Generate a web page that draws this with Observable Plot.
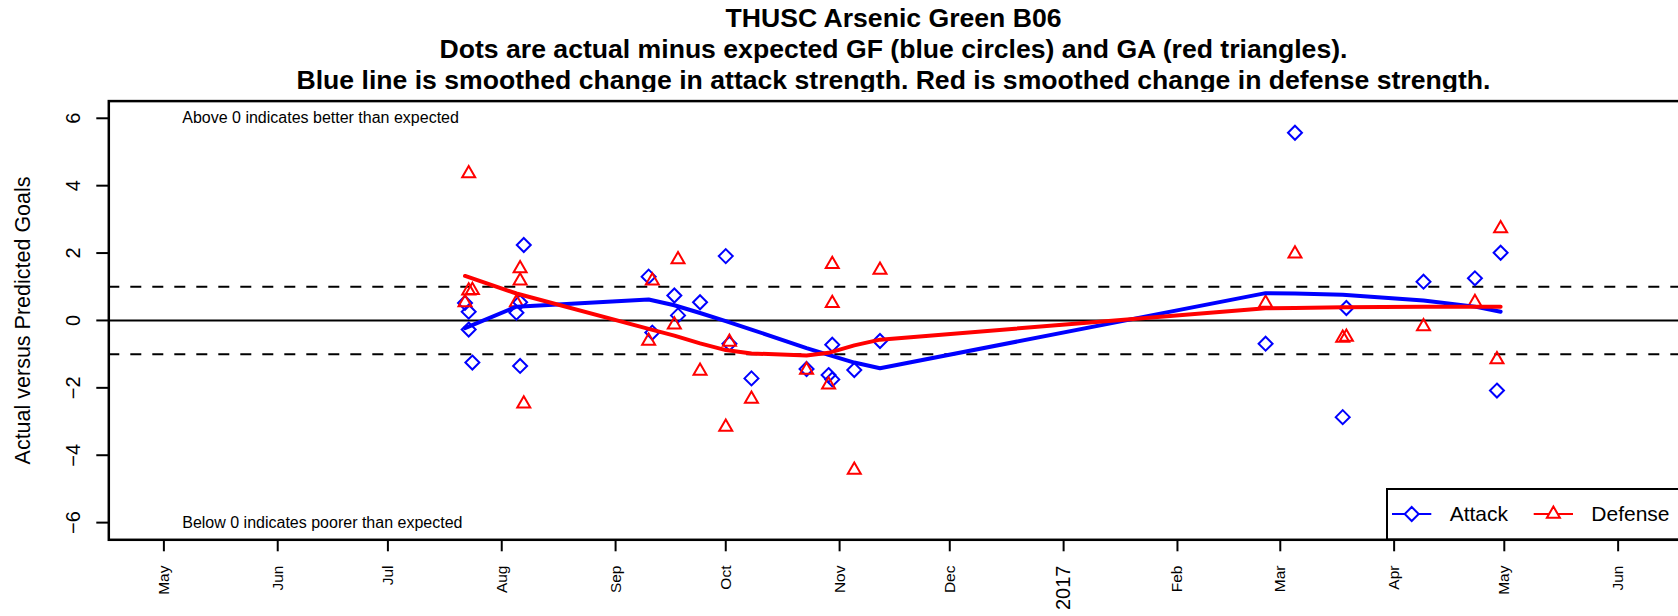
<!DOCTYPE html>
<html><head><meta charset="utf-8">
<script src="https://cdn.jsdelivr.net/npm/d3@7"></script>
<script src="https://cdn.jsdelivr.net/npm/@observablehq/plot@0.6"></script>
<style>
body{margin:0;background:#fff;font-family:"Liberation Sans",Arial,Helvetica,sans-serif;}
#wrap{position:relative;width:1678px;height:616px;overflow:hidden;background:#fff;}
#title{position:absolute;left:108px;width:1571px;top:0;text-align:center;font-weight:bold;font-size:26.6px;line-height:31px;padding-top:3px;color:#000;}
#chart{position:absolute;left:0;top:92px;}
#legend{position:absolute;left:1386px;top:488px;}
</style></head><body>
<div id="wrap">
  <div id="title">
    <div>THUSC Arsenic Green B06</div>
    <div>Dots are actual minus expected GF (blue circles) and GA (red triangles).</div>
    <div>Blue line is smoothed change in attack strength. Red is smoothed change in defense strength.</div>
  </div>
  <div id="chart"></div>
  <svg id="legend" width="292" height="53"></svg>
</div>
<script>
// ---- data ----
const gameDates = ["2016-07-22","2016-07-23","2016-07-23","2016-07-24",
  "2016-08-05","2016-08-06","2016-08-06","2016-08-07",
  "2016-09-10","2016-09-11","2016-09-17","2016-09-18","2016-09-24",
  "2016-10-01","2016-10-02","2016-10-08","2016-10-23","2016-10-29","2016-10-30","2016-10-30",
  "2016-11-05","2016-11-12","2017-02-25","2017-03-05","2017-03-18","2017-03-19",
  "2017-04-09","2017-04-23","2017-04-29","2017-04-30"];
const attackDiff = [0.52,0.26,-0.27,-1.25, 0.23,-1.35,0.54,2.24, 1.30,-0.36,0.74,0.15,0.54,
  1.91,-0.69,-1.72,-1.44,-1.62,-0.72,-1.75, -1.47,-0.61,-0.69,5.57,-2.87,0.37, 1.15,1.25,-2.08,2.01];
const defenseDiff = [0.53,0.88,4.36,0.90, 0.53,1.54,1.18,-2.47, -0.61,1.18,-0.13,1.81,-1.50,
  -3.16,-0.64,-2.33,-1.47,-1.91,0.51,1.67, -4.44,1.50,0.52,1.98,-0.52,-0.49, -0.18,0.54,-1.16,2.73];

const smoothDates = ["2016-07-22","2016-08-05","2016-09-10","2016-09-17","2016-09-24","2016-10-01",
  "2016-10-08","2016-10-23","2016-10-29","2016-11-05","2016-11-12","2017-02-25","2017-03-05",
  "2017-03-18","2017-04-09","2017-04-23","2017-04-30"];
const attackSmooth = [-0.23,0.41,0.62,0.45,0.22,-0.02,-0.27,-0.82,-1.02,-1.25,-1.42,0.81,0.80,0.76,0.59,0.41,0.26];
const defenseSmooth = [1.32,0.80,-0.25,-0.45,-0.68,-0.88,-0.98,-1.04,-0.96,-0.74,-0.57,0.36,0.37,0.39,0.41,0.41,0.41];

const monthTicks = ["2016-05-01","2016-06-01","2016-07-01","2016-08-01","2016-09-01","2016-10-01",
  "2016-11-01","2016-12-01","2017-01-01","2017-02-01","2017-03-01","2017-04-01","2017-05-01","2017-06-01"];
const monthLabels = ["May","Jun","Jul","Aug","Sep","Oct","Nov","Dec","2017","Feb","Mar","Apr","May","Jun"];
const yTicks = [-6,-4,-2,0,2,4,6];
const refLevels = [-1,1];
const noteTexts = ["Above 0 indicates better than expected","Below 0 indicates poorer than expected"];
const noteY = [6,-6];
const noteDate = "2016-05-06";
const yLabel = "Actual versus Predicted Goals";
const legendLabels = ["Attack","Defense"];
const colA = "#0000ff", colD = "#ff0000";

// ---- build tables ----
const P = s => new Date(s + "T00:00:00Z");
const games = gameDates.map((d,i)=>({date:P(d), attack:attackDiff[i], defense:defenseDiff[i]}));
const smooth = smoothDates.map((d,i)=>({date:P(d), attack:attackSmooth[i], defense:defenseSmooth[i]}));
const months = monthTicks.map((d,i)=>({date:P(d), label:monthLabels[i], year: /^\d{4}$/.test(monthLabels[i])}));
const notes = noteTexts.map((t,i)=>({date:P(noteDate), y:noteY[i], text:t}));
const fmtNum = d => d < 0 ? "\u2212" + Math.abs(d) : String(d);

const W = 1678, H = 524, mL = 108.3, mT = 8.6, mB = 76.7, mR = -1;

const chart = Plot.plot({
  width: W, height: H,
  marginLeft: mL, marginRight: mR, marginTop: mT, marginBottom: mB,
  style: {fontFamily: '"Liberation Sans",Arial,Helvetica,sans-serif', background: "white", overflow: "hidden"},
  x: {type: "utc", domain: [new Date(Date.UTC(2016,3,16)), new Date(Date.UTC(2017,5,17,17))]},
  y: {domain: [-6.51, 6.51]},
  marks: [
    Plot.ruleY(refLevels, {stroke: "black", strokeWidth: 2, strokeDasharray: "11,11"}),
    Plot.ruleY([0], {stroke: "black", strokeWidth: 2}),
    Plot.dot(games, {x: "date", y: "attack", symbol: "diamond2", r: 6.3, stroke: colA, strokeWidth: 2, fill: "none"}),
    Plot.dot(games, {x: "date", y: "defense", symbol: "triangle2", r: 6.2, stroke: colD, strokeWidth: 2, fill: "none"}),
    Plot.line(smooth, {x: "date", y: "attack", stroke: colA, strokeWidth: 4}),
    Plot.line(smooth, {x: "date", y: "defense", stroke: colD, strokeWidth: 4}),
    Plot.text(notes, {x: "date", y: "y", text: "text", textAnchor: "start", fontSize: 16, fill: "black"}),
    Plot.axisX({ticks: monthTicks.map(P), tickSize: 12, strokeWidth: 2, tickFormat: () => "", label: null}),
    Plot.text(months.filter(d => !d.year), {x: "date", text: "label", frameAnchor: "bottom", dy: 25.7, rotate: -90, textAnchor: "end", lineAnchor: "middle", fontSize: 15.5, fill: "black"}),
    Plot.text(months.filter(d => d.year), {x: "date", text: "label", frameAnchor: "bottom", dy: 25.7, rotate: -90, textAnchor: "end", lineAnchor: "middle", fontSize: 20, fill: "black"}),
    Plot.axisY({ticks: yTicks, tickSize: 12, strokeWidth: 2, tickFormat: () => "", label: null}),
    Plot.text(yTicks, {y: d => d, text: fmtNum, frameAnchor: "left", dx: -34.8, rotate: -90, textAnchor: "middle", lineAnchor: "middle", fontSize: 20, fill: "black"}),
    Plot.text([yLabel], {text: d => d, frameAnchor: "left", dx: -85.6, rotate: -90, textAnchor: "middle", lineAnchor: "middle", fontSize: 21.5, fill: "black"}),
    Plot.frame({stroke: "black", strokeWidth: 2.5})
  ]
});
document.getElementById("chart").appendChild(chart);

// ---- legend (inside plot, bottom-right) ----
const lg = d3.select("#legend");
lg.append("rect").attr("x", 1).attr("y", 1).attr("width", 320).attr("height", 50.3)
  .attr("fill", "white").attr("stroke", "black").attr("stroke-width", 2);
const items = [
  {label: legendLabels[0], color: colA, sym: d3.symbolDiamond2, size: Math.PI*6.3*6.3, x0: 6, tx: 63.7},
  {label: legendLabels[1], color: colD, sym: d3.symbolTriangle2, size: Math.PI*6.2*6.2, x0: 147.7, tx: 205.3}
];
items.forEach(it => {
  const cy = 26;
  lg.append("line").attr("x1", it.x0).attr("x2", it.x0 + 39.3).attr("y1", cy).attr("y2", cy)
    .attr("stroke", it.color).attr("stroke-width", 2);
  lg.append("path").attr("d", d3.symbol(it.sym, it.size)()).attr("transform", `translate(${it.x0 + 19.7},${cy})`)
    .attr("fill", "white").attr("stroke", it.color).attr("stroke-width", 2);
  lg.append("text").attr("x", it.tx).attr("y", cy).attr("dy", "0.35em").attr("font-size", 21)
    .attr("font-family", '"Liberation Sans",Arial,Helvetica,sans-serif').attr("fill", "black").text(it.label);
});
</script>
</body></html>
